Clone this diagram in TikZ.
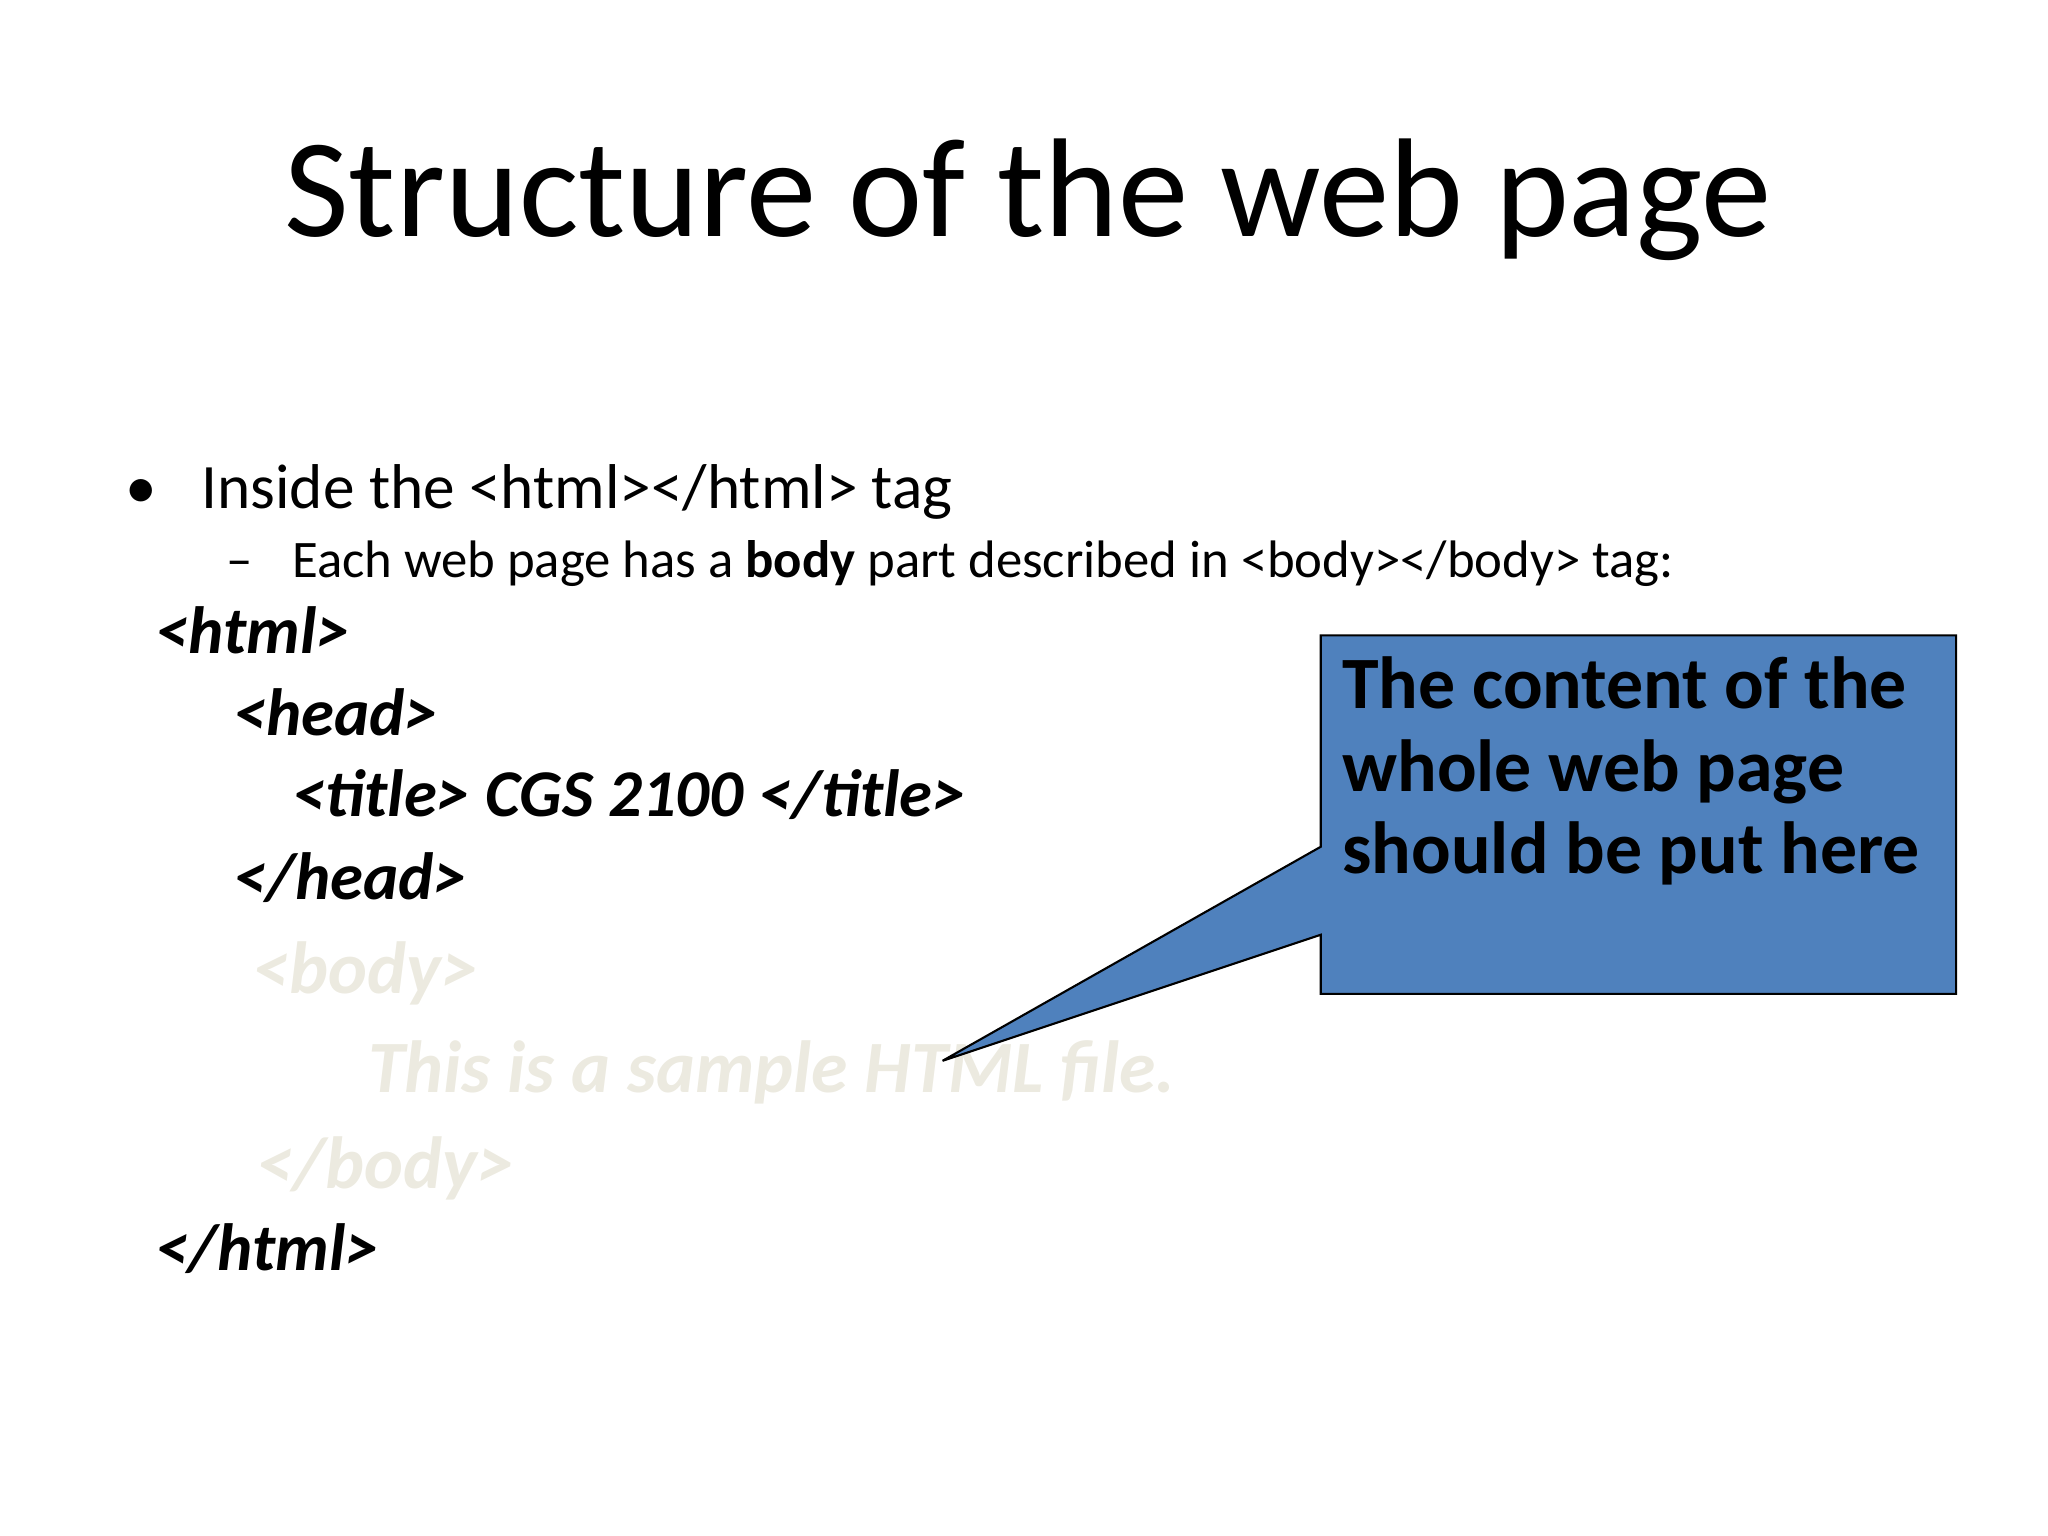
\documentclass[tikz,border=0pt]{standalone}
\usepackage{fontspec}
\setmainfont{Carlito}
\definecolor{calloutblue}{RGB}{79,129,189}
\definecolor{fadedtext}{RGB}{236,234,224}
\begin{document}
\begin{tikzpicture}[x=0.01313cm,y=-0.01313cm,
  t/.style={anchor=base west,inner sep=0pt},
  code/.style={t,font=\fontsize{19}{22}\selectfont\bfseries\itshape},
  faded/.style={code,text=fadedtext,font=\fontsize{21}{24}\selectfont\bfseries\itshape}]
\useasboundingbox (0,0) rectangle (1560,1170);
\node[anchor=base,inner sep=0pt,font=\fontsize{40}{46}\selectfont] (title) at (783,180) {Structure of the web page};
\node[t,font=\fontsize{18}{22}\selectfont] (b1) at (95,387) {•};
\node[t,font=\fontsize{18}{22}\selectfont] (l1) at (153,387) {Inside the <html></html> tag};
\node[t,font=\fontsize{15}{18}\selectfont] (d1) at (172,440) {–};
\node[t,font=\fontsize{15}{18}\selectfont] (l2) at (222,440) {Each web page has a \textbf{body} part described in <body></body> tag:};
\node[code] (c1) at (118,498) {<html>};
\node[code] (c2) at (177,560) {<head>};
\node[code] (c3) at (222,622) {<title> CGS 2100 </title>};
\node[code] (c4) at (177,685) {</head>};
\node[faded] (c5) at (192,757) {<body>};
\node[faded] (c6) at (280,832) {This is a sample HTML file.};
\node[faded] (c7) at (195,905) {</body>};
\node[code] (c8) at (118,968) {</html>};
\filldraw[fill=calloutblue,draw=black,line width=0.6pt]
  (1006,484) -- (1490,484) -- (1490,757) -- (1006,757) -- (1006,712) -- (718,808) -- (1006,645) -- cycle;
\node[t,font=\fontsize{21}{25}\selectfont\bfseries] (k1) at (1022,540) {The content of the};
\node[t,font=\fontsize{21}{25}\selectfont\bfseries] (k2) at (1022,603) {whole web page};
\node[t,font=\fontsize{21}{25}\selectfont\bfseries] (k3) at (1022,665) {should be put here};
\end{tikzpicture}
\end{document}
